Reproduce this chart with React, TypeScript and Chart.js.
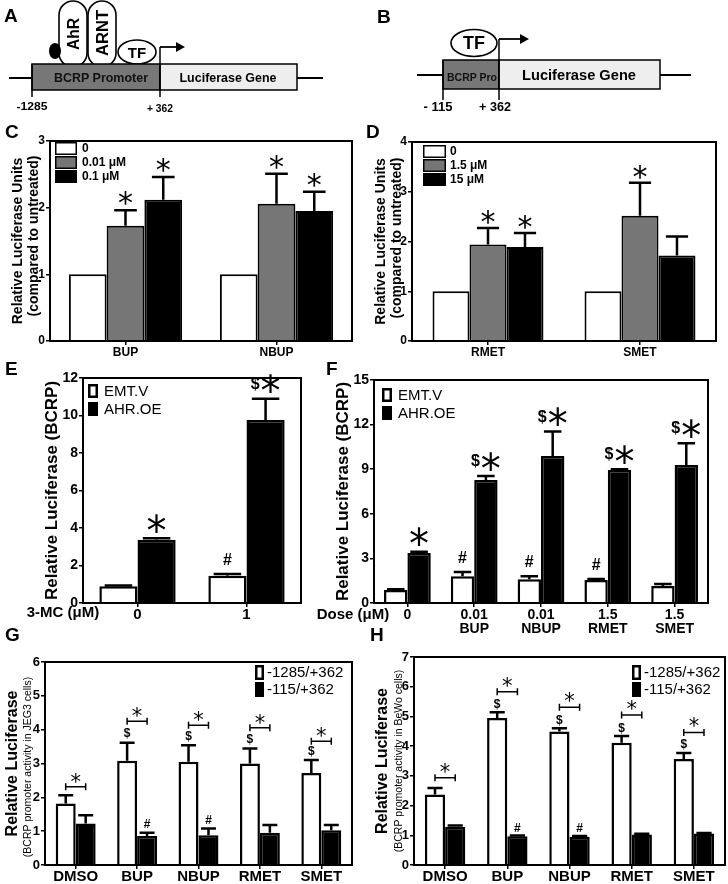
import React, { useEffect, useRef } from 'react';
import { Chart, registerables } from 'chart.js';

Chart.register(...registerables);

const SANS = '"Liberation Sans", Arial, Helvetica, sans-serif';
const STAR_FONT = '"DejaVu Sans", sans-serif';

// ---------------- Panel C ----------------
const C_CATEGORIES = ['BUP', 'NBUP'];
const C_SERIES = ['0', '0.01 μM', '0.1 μM'];
const C_VALUES_0 = [1, 1];
const C_VALUES_1 = [1.73, 2.06];
const C_VALUES_2 = [2.12, 1.95];
const C_ERRORS_0 = [0, 0];
const C_ERRORS_1 = [0.23, 0.45];
const C_ERRORS_2 = [0.34, 0.29];
const C_MARKS_0 = ['', ''];
const C_MARKS_1 = ['*', '*'];
const C_MARKS_2 = ['*', '*'];
const C_Y_MAX = 3;
const C_Y_STEP = 1;
const C_Y_TITLE = 'Relative Luciferase Units';
const C_Y_SUBTITLE = '(compared to untreated)';

// ---------------- Panel D ----------------
const D_CATEGORIES = ['RMET', 'SMET'];
const D_SERIES = ['0', '1.5 μM', '15 μM'];
const D_VALUES_0 = [1, 1];
const D_VALUES_1 = [1.94, 2.52];
const D_VALUES_2 = [1.89, 1.72];
const D_ERRORS_0 = [0, 0];
const D_ERRORS_1 = [0.33, 0.66];
const D_ERRORS_2 = [0.28, 0.38];
const D_MARKS_0 = ['', ''];
const D_MARKS_1 = ['*', '*'];
const D_MARKS_2 = ['*', ''];
const D_Y_MAX = 4;
const D_Y_STEP = 1;
const D_Y_TITLE = 'Relative Luciferase Units';
const D_Y_SUBTITLE = '(compared to untreated)';

// ---------------- Panel E ----------------
const E_CATEGORIES = ['0', '1'];
const E_X_PREFIX = '3-MC (μM)';
const E_SERIES = ['EMT.V', 'AHR.OE'];
const E_VALUES_EMT = [0.89, 1.45];
const E_VALUES_AHR = [3.38, 9.76];
const E_ERRORS_EMT = [0.04, 0.1];
const E_ERRORS_AHR = [0.08, 1.14];
const E_MARKS_EMT = ['', '#'];
const E_MARKS_AHR = ['*', '$*'];
const E_Y_MAX = 12;
const E_Y_STEP = 2;
const E_Y_TITLE = 'Relative Luciferase (BCRP)';

// ---------------- Panel F ----------------
const F_DOSES = ['0', '0.01', '0.01', '1.5', '1.5'];
const F_DRUGS = ['', 'BUP', 'NBUP', 'RMET', 'SMET'];
const F_X_PREFIX = 'Dose (μM)';
const F_SERIES = ['EMT.V', 'AHR.OE'];
const F_VALUES_EMT = [0.87, 1.8, 1.6, 1.55, 1.15];
const F_VALUES_AHR = [3.36, 8.27, 9.89, 8.94, 9.28];
const F_ERRORS_EMT = [0.06, 0.28, 0.2, 0.07, 0.12];
const F_ERRORS_AHR = [0.08, 0.27, 1.64, 0.05, 1.46];
const F_MARKS_EMT = ['', '#', '#', '#', ''];
const F_MARKS_AHR = ['*', '$*', '$*', '$*', '$*'];
const F_Y_MAX = 15;
const F_Y_STEP = 3;
const F_Y_TITLE = 'Relative Luciferase (BCRP)';

// ---------------- Panels G / H ----------------
const GH_CATEGORIES = ['DMSO', 'BUP', 'NBUP', 'RMET', 'SMET'];
const GH_SERIES = ['-1285/+362', '-115/+362'];
const G_VALUES_LONG = [1.82, 3.08, 3.05, 3.0, 2.72];
const G_ERRORS_LONG = [0.24, 0.53, 0.49, 0.44, 0.38];
const G_VALUES_SHORT = [1.23, 0.86, 0.88, 0.95, 1.03];
const G_ERRORS_SHORT = [0.24, 0.09, 0.2, 0.23, 0.15];
const G_MARKS_LONG = ['', '$', '$', '$', '$'];
const G_MARKS_SHORT = ['', '#', '#', '', ''];
const G_BRACKETS = [2.31, 4.25, 4.13, 4.06, 3.66];
const G_BRACKET_MARKS = ['*', '*', '*', '*', '*'];
const G_Y_MAX = 6;
const G_Y_STEP = 1;
const G_Y_TITLE = 'Relative Luciferase';
const G_Y_SUBTITLE = '(BCRP promoter activity in JEG3 cells)';

const H_VALUES_LONG = [2.37, 4.95, 4.49, 4.11, 3.57];
const H_ERRORS_LONG = [0.22, 0.19, 0.11, 0.23, 0.2];
const H_VALUES_SHORT = [1.29, 0.97, 0.95, 1.03, 1.06];
const H_ERRORS_SHORT = [0.04, 0.02, 0.03, 0.02, 0.02];
const H_MARKS_LONG = ['', '$', '$', '$', '$'];
const H_MARKS_SHORT = ['', '#', '#', '', ''];
const H_BRACKETS = [2.94, 5.83, 5.31, 5.05, 4.46];
const H_BRACKET_MARKS = ['*', '*', '*', '*', '*'];
const H_Y_MAX = 7;
const H_Y_STEP = 1;
const H_Y_TITLE = 'Relative Luciferase';
const H_Y_SUBTITLE = '(BCRP promoter activity in BeWo cells)';

const WHITE = '#ffffff';
const GRAY = '#767676';
const BLACK = '#000000';

type DS = { label: string; data: number[]; errors: number[]; marks: string[]; color: string };
type Spec = {
  box: number[];
  area: number[];
  labels: any[];
  datasets: DS[];
  yMax: number;
  yStep: number;
  yTickSize: number;
  xTickSize: number;
  xLineHeight: number;
  xTickPad: number;
  title: string;
  titleSize: number;
  titleX: number;
  catPct: number;
  barBorder: number;
  frame: number;
  capRatio: number;
  errWidth: number;
  markOffset: number;
  starSize: number;
  symSize: number;
  legend: { x: number; y: number; w: number; h: number; row: number; gap: number; size: number; bold: boolean; border: number };
  texts: { text: string; x: number; y: number; size: number; bold: boolean; rotate?: boolean }[];
  brackets?: number[];
  bracketMarks?: string[];
  bracketStarGap?: number;
};

function drawMark(ctx: CanvasRenderingContext2D, text: string, cx: number, cy: number, s: Spec) {
  const parts = Array.from(text).map((ch) => {
    const star = ch === '*';
    const font = star ? `${s.starSize}px ${STAR_FONT}` : `bold ${s.symSize}px ${SANS}`;
    ctx.font = font;
    const m = ctx.measureText(ch);
    return { ch, font, w: m.width, asc: m.actualBoundingBoxAscent, desc: m.actualBoundingBoxDescent };
  });
  const gap = 1;
  const total = parts.reduce((a, p) => a + p.w, 0) + gap * (parts.length - 1);
  let x = cx - total / 2;
  ctx.fillStyle = '#000';
  ctx.textAlign = 'left';
  ctx.textBaseline = 'alphabetic';
  for (const p of parts) {
    ctx.font = p.font;
    ctx.fillText(p.ch, x, cy + (p.asc - p.desc) / 2);
    x += p.w + gap;
  }
}

function makePlugin(s: Spec) {
  const [bl, bt] = s.box;
  return {
    id: 'panelDecor',
    afterDatasetsDraw(chart: any) {
      const ctx: CanvasRenderingContext2D = chart.ctx;
      const y = chart.scales.y;
      ctx.save();
      s.datasets.forEach((ds, di) => {
        const meta = chart.getDatasetMeta(di);
        meta.data.forEach((bar: any, i: number) => {
          const e = ds.errors[i];
          if (!e) return;
          const yt = y.getPixelForValue(ds.data[i] + e);
          const yb = y.getPixelForValue(ds.data[i]);
          const half = (bar.width * s.capRatio) / 2;
          ctx.strokeStyle = '#000';
          ctx.lineWidth = s.errWidth;
          ctx.beginPath();
          ctx.moveTo(bar.x, yb);
          ctx.lineTo(bar.x, yt);
          ctx.moveTo(bar.x - half, yt);
          ctx.lineTo(bar.x + half, yt);
          ctx.stroke();
        });
      });
      ctx.restore();
    },
    afterDraw(chart: any) {
      const ctx: CanvasRenderingContext2D = chart.ctx;
      const a = chart.chartArea;
      const y = chart.scales.y;
      ctx.save();
      // frame
      ctx.strokeStyle = '#000';
      ctx.lineWidth = s.frame;
      ctx.strokeRect(a.left, a.top, a.right - a.left, a.bottom - a.top);
      // significance marks
      s.datasets.forEach((ds, di) => {
        const meta = chart.getDatasetMeta(di);
        meta.data.forEach((bar: any, i: number) => {
          const m = ds.marks[i];
          if (!m) return;
          const yt = y.getPixelForValue(ds.data[i] + (ds.errors[i] || 0));
          drawMark(ctx, m, bar.x, yt - s.markOffset, s);
        });
      });
      // brackets
      if (s.brackets) {
        const m0 = chart.getDatasetMeta(0);
        const m1 = chart.getDatasetMeta(1);
        s.brackets.forEach((b, i) => {
          const x0 = m0.data[i].x;
          const x1 = m1.data[i].x;
          const yy = y.getPixelForValue(b);
          ctx.strokeStyle = '#000';
          ctx.lineWidth = 1.5;
          ctx.beginPath();
          ctx.moveTo(x0, yy);
          ctx.lineTo(x1, yy);
          ctx.moveTo(x0, yy - 3.5);
          ctx.lineTo(x0, yy + 3.5);
          ctx.moveTo(x1, yy - 3.5);
          ctx.lineTo(x1, yy + 3.5);
          ctx.stroke();
          const mk = s.bracketMarks ? s.bracketMarks[i] : '';
          if (mk) drawMark(ctx, mk, (x0 + x1) / 2, yy - (s.bracketStarGap || 9), s);
        });
      }
      // legend
      const L = s.legend;
      s.datasets.forEach((ds, i) => {
        const x = L.x - bl;
        const yy = L.y - bt + i * L.row;
        ctx.fillStyle = ds.color;
        ctx.fillRect(x, yy, L.w, L.h);
        ctx.strokeStyle = '#000';
        ctx.lineWidth = L.border;
        ctx.strokeRect(x + L.border / 2, yy + L.border / 2, L.w - L.border, L.h - L.border);
        ctx.fillStyle = '#000';
        ctx.font = `${L.bold ? 'bold ' : ''}${L.size}px ${SANS}`;
        ctx.textAlign = 'left';
        ctx.textBaseline = 'middle';
        ctx.fillText(ds.label, x + L.w + L.gap, yy + L.h / 2 + 0.5);
      });
      // extra texts
      s.texts.forEach((t) => {
        ctx.save();
        ctx.translate(t.x - bl, t.y - bt);
        if (t.rotate) ctx.rotate(-Math.PI / 2);
        ctx.fillStyle = '#000';
        ctx.font = `${t.bold ? 'bold ' : ''}${t.size}px ${SANS}`;
        ctx.textAlign = 'center';
        ctx.textBaseline = 'middle';
        ctx.fillText(t.text, 0, 0);
        ctx.restore();
      });
      ctx.restore();
    },
  };
}

function buildConfig(s: Spec) {
  const [bl, bt, bw, bh] = s.box;
  const [al, at, ar, ab] = s.area;
  const yW = al - bl;
  const xH = bt + bh - ab;
  const padTop = at - bt;
  const padRight = bl + bw - ar;
  const titleLH = 1.15;
  const titlePad = s.titleX - bl - (s.titleSize * titleLH) / 2;
  return {
    type: 'bar',
    data: {
      labels: s.labels,
      datasets: s.datasets.map((d) => ({
        label: d.label,
        data: d.data,
        backgroundColor: d.color,
        borderColor: '#000',
        borderWidth: s.barBorder,
        borderSkipped: 'start',
        categoryPercentage: s.catPct,
        barPercentage: 1,
      })),
    },
    options: {
      animation: false,
      responsive: false,
      maintainAspectRatio: false,
      devicePixelRatio: 1,
      events: [],
      layout: { padding: { top: padTop, right: padRight, left: 0, bottom: 0 } },
      plugins: { legend: { display: false }, tooltip: { enabled: false }, title: { display: false } },
      scales: {
        x: {
          grid: { offset: false, drawOnChartArea: false, drawTicks: true, tickLength: 4, color: '#000', lineWidth: 1.5 },
          border: { display: true, color: '#000', width: s.frame },
          ticks: {
            color: '#000',
            font: { family: SANS, size: s.xTickSize, weight: 'bold', lineHeight: s.xLineHeight },
            padding: s.xTickPad,
            maxRotation: 0,
            minRotation: 0,
            autoSkip: false,
          },
          afterFit: (sc: any) => {
            sc.height = xH;
          },
        },
        y: {
          min: 0,
          max: s.yMax,
          grid: { drawOnChartArea: false, drawTicks: true, tickLength: 4, color: '#000', lineWidth: 1.5 },
          border: { display: true, color: '#000', width: s.frame },
          ticks: {
            stepSize: s.yStep,
            color: '#000',
            font: { family: SANS, size: s.yTickSize, weight: 'bold' },
            padding: 1,
          },
          title: {
            display: true,
            text: s.title,
            color: '#000',
            font: { family: SANS, size: s.titleSize, weight: 'bold', lineHeight: titleLH },
            padding: { top: titlePad, bottom: 0 },
          },
          afterFit: (sc: any) => {
            sc.width = yW;
          },
        },
      },
    },
    plugins: [makePlugin(s)],
  };
}

const SPEC_C: Spec = {
  box: [0, 118, 360, 250],
  area: [50, 141, 352, 341],
  labels: C_CATEGORIES,
  datasets: [
    { label: C_SERIES[0], data: C_VALUES_0, errors: C_ERRORS_0, marks: C_MARKS_0, color: WHITE },
    { label: C_SERIES[1], data: C_VALUES_1, errors: C_ERRORS_1, marks: C_MARKS_1, color: GRAY },
    { label: C_SERIES[2], data: C_VALUES_2, errors: C_ERRORS_2, marks: C_MARKS_2, color: BLACK },
  ],
  yMax: C_Y_MAX,
  yStep: C_Y_STEP,
  yTickSize: 12,
  xTickSize: 12,
  xLineHeight: 1.2,
  xTickPad: 0,
  title: C_Y_TITLE,
  titleSize: 14,
  titleX: 18,
  catPct: 0.75,
  barBorder: 2,
  frame: 2,
  capRatio: 0.6,
  errWidth: 2.5,
  markOffset: 12,
  starSize: 30,
  symSize: 14,
  legend: { x: 55, y: 142, w: 22, h: 13, row: 14, gap: 5, size: 12, bold: true, border: 1.5 },
  texts: [{ text: C_Y_SUBTITLE, x: 34, y: 236, size: 14, bold: true, rotate: true }],
};

const SPEC_D: Spec = {
  box: [364, 118, 364, 250],
  area: [412, 142, 716, 341],
  labels: D_CATEGORIES,
  datasets: [
    { label: D_SERIES[0], data: D_VALUES_0, errors: D_ERRORS_0, marks: D_MARKS_0, color: WHITE },
    { label: D_SERIES[1], data: D_VALUES_1, errors: D_ERRORS_1, marks: D_MARKS_1, color: GRAY },
    { label: D_SERIES[2], data: D_VALUES_2, errors: D_ERRORS_2, marks: D_MARKS_2, color: BLACK },
  ],
  yMax: D_Y_MAX,
  yStep: D_Y_STEP,
  yTickSize: 12,
  xTickSize: 12,
  xLineHeight: 1.2,
  xTickPad: 0,
  title: D_Y_TITLE,
  titleSize: 14,
  titleX: 381,
  catPct: 0.73,
  barBorder: 2,
  frame: 2,
  capRatio: 0.6,
  errWidth: 2.5,
  markOffset: 11,
  starSize: 30,
  symSize: 14,
  legend: { x: 423, y: 145, w: 23, h: 13, row: 14, gap: 4, size: 12, bold: true, border: 1.5 },
  texts: [{ text: D_Y_SUBTITLE, x: 397, y: 238, size: 14, bold: true, rotate: true }],
};

const SPEC_E: Spec = {
  box: [0, 355, 312, 275],
  area: [83, 378, 301, 603],
  labels: E_CATEGORIES,
  datasets: [
    { label: E_SERIES[0], data: E_VALUES_EMT, errors: E_ERRORS_EMT, marks: E_MARKS_EMT, color: WHITE },
    { label: E_SERIES[1], data: E_VALUES_AHR, errors: E_ERRORS_AHR, marks: E_MARKS_AHR, color: BLACK },
  ],
  yMax: E_Y_MAX,
  yStep: E_Y_STEP,
  yTickSize: 14,
  xTickSize: 15,
  xLineHeight: 1.0,
  xTickPad: 0,
  title: E_Y_TITLE,
  titleSize: 17,
  titleX: 52,
  catPct: 0.7,
  barBorder: 2.5,
  frame: 2,
  capRatio: 0.72,
  errWidth: 2.5,
  markOffset: 15,
  starSize: 40,
  symSize: 16,
  legend: { x: 88, y: 384, w: 10, h: 14, row: 18, gap: 6, size: 15, bold: false, border: 2.5 },
  texts: [{ text: E_X_PREFIX, x: 63, y: 613, size: 15, bold: true }],
};

const SPEC_F: Spec = {
  box: [310, 355, 418, 290],
  area: [374, 380, 708, 603],
  labels: F_DOSES.map((d, i) => (F_DRUGS[i] ? [d, F_DRUGS[i]] : d)),
  datasets: [
    { label: F_SERIES[0], data: F_VALUES_EMT, errors: F_ERRORS_EMT, marks: F_MARKS_EMT, color: WHITE },
    { label: F_SERIES[1], data: F_VALUES_AHR, errors: F_ERRORS_AHR, marks: F_MARKS_AHR, color: BLACK },
  ],
  yMax: F_Y_MAX,
  yStep: F_Y_STEP,
  yTickSize: 14,
  xTickSize: 14,
  xLineHeight: 1.0,
  xTickPad: 1,
  title: F_Y_TITLE,
  titleSize: 17,
  titleX: 343,
  catPct: 0.7,
  barBorder: 2.5,
  frame: 2,
  capRatio: 0.75,
  errWidth: 2.5,
  markOffset: 15,
  starSize: 40,
  symSize: 16,
  legend: { x: 382, y: 388, w: 10, h: 14, row: 18, gap: 6, size: 15, bold: false, border: 2.5 },
  texts: [{ text: F_X_PREFIX, x: 353, y: 615, size: 15, bold: true }],
};

const SPEC_G: Spec = {
  box: [0, 640, 360, 244],
  area: [45, 662, 352, 865],
  labels: GH_CATEGORIES,
  datasets: [
    { label: GH_SERIES[0], data: G_VALUES_LONG, errors: G_ERRORS_LONG, marks: G_MARKS_LONG, color: WHITE },
    { label: GH_SERIES[1], data: G_VALUES_SHORT, errors: G_ERRORS_SHORT, marks: G_MARKS_SHORT, color: BLACK },
  ],
  yMax: G_Y_MAX,
  yStep: G_Y_STEP,
  yTickSize: 13,
  xTickSize: 15,
  xLineHeight: 1.0,
  xTickPad: 0,
  title: G_Y_TITLE,
  titleSize: 16,
  titleX: 13,
  catPct: 0.65,
  barBorder: 2.5,
  frame: 2,
  capRatio: 0.75,
  errWidth: 2.5,
  markOffset: 9,
  starSize: 21,
  symSize: 12,
  legend: { x: 255, y: 665, w: 9, h: 15, row: 17, gap: 3, size: 15, bold: false, border: 2.5 },
  texts: [{ text: G_Y_SUBTITLE, x: 28, y: 767, size: 10.5, bold: false, rotate: true }],
  brackets: G_BRACKETS,
  bracketMarks: G_BRACKET_MARKS,
  bracketStarGap: 9,
};

const SPEC_H: Spec = {
  box: [364, 640, 364, 244],
  area: [414, 657, 725, 865],
  labels: GH_CATEGORIES,
  datasets: [
    { label: GH_SERIES[0], data: H_VALUES_LONG, errors: H_ERRORS_LONG, marks: H_MARKS_LONG, color: WHITE },
    { label: GH_SERIES[1], data: H_VALUES_SHORT, errors: H_ERRORS_SHORT, marks: H_MARKS_SHORT, color: BLACK },
  ],
  yMax: H_Y_MAX,
  yStep: H_Y_STEP,
  yTickSize: 13,
  xTickSize: 15,
  xLineHeight: 1.0,
  xTickPad: 0,
  title: H_Y_TITLE,
  titleSize: 16,
  titleX: 383,
  catPct: 0.65,
  barBorder: 2.5,
  frame: 2,
  capRatio: 0.75,
  errWidth: 2.5,
  markOffset: 8,
  starSize: 21,
  symSize: 12,
  legend: { x: 632, y: 665, w: 9, h: 15, row: 17, gap: 3, size: 15, bold: false, border: 2.5 },
  texts: [{ text: H_Y_SUBTITLE, x: 399, y: 761, size: 10.5, bold: false, rotate: true }],
  brackets: H_BRACKETS,
  bracketMarks: H_BRACKET_MARKS,
  bracketStarGap: 10,
};

function BarPanel({ spec }: { spec: Spec }) {
  const ref = useRef<HTMLCanvasElement>(null);
  useEffect(() => {
    const chart = new Chart(ref.current as HTMLCanvasElement, buildConfig(spec) as any);
    return () => chart.destroy();
  }, [spec]);
  const [l, t, w, h] = spec.box;
  return (
    <canvas
      ref={ref}
      width={w}
      height={h}
      style={{ position: 'absolute', left: l, top: t, width: w, height: h }}
    />
  );
}

function Diagrams() {
  const b = { fontFamily: SANS, fontWeight: 700 } as any;
  const sw = 1.6;
  return (
    <svg
      width={728}
      height={884}
      style={{ position: 'absolute', left: 0, top: 0, pointerEvents: 'none' }}
    >
      {/* Panel letters */}
      <text x={4} y={22} fontSize={19} style={b}>A</text>
      <text x={377} y={23} fontSize={19} style={b}>B</text>
      <text x={5} y={138} fontSize={19} style={b}>C</text>
      <text x={366} y={138} fontSize={19} style={b}>D</text>
      <text x={5} y={375} fontSize={19} style={b}>E</text>
      <text x={326} y={375} fontSize={19} style={b}>F</text>
      <text x={5} y={641} fontSize={19} style={b}>G</text>
      <text x={370} y={641} fontSize={19} style={b}>H</text>

      {/* Panel A diagram */}
      <line x1={9} y1={78} x2={323} y2={78} stroke="#000" strokeWidth={2} />
      <rect x={59} y={1} width={28} height={66} rx={14} fill="#fff" stroke="#000" strokeWidth={sw} />
      <rect x={88} y={1} width={28} height={66} rx={14} fill="#fff" stroke="#000" strokeWidth={sw} />
      <ellipse cx={55} cy={51} rx={6} ry={8} fill="#000" />
      <ellipse cx={137} cy={52} rx={19} ry={12} fill="#fff" stroke="#000" strokeWidth={sw} />
      <rect x={32} y={64} width={128} height={26} fill="#777" stroke="#000" strokeWidth={1.5} />
      <rect x={160} y={64} width={137} height={26} fill="#eee" stroke="#000" strokeWidth={1.5} />
      <line x1={32} y1={64} x2={32} y2={97} stroke="#000" strokeWidth={1.5} />
      <line x1={160} y1={47} x2={160} y2={97} stroke="#000" strokeWidth={1.5} />
      <line x1={160} y1={47} x2={177} y2={47} stroke="#000" strokeWidth={1.8} />
      <polygon points="185,47 176,42 176,52" fill="#000" />
      <text x={101} y={82} fontSize={13} style={b} textAnchor="middle" textLength={94} lengthAdjust="spacingAndGlyphs" fill="#111">BCRP Promoter</text>
      <text x={228} y={82} fontSize={13} style={b} textAnchor="middle" textLength={97} lengthAdjust="spacingAndGlyphs">Luciferase Gene</text>
      <text x={32} y={110} fontSize={11} style={b} textAnchor="middle" textLength={31} lengthAdjust="spacingAndGlyphs">-1285</text>
      <text x={160} y={112} fontSize={11} style={b} textAnchor="middle" textLength={26} lengthAdjust="spacingAndGlyphs">+ 362</text>
      <text transform="translate(73,34) rotate(-90)" fontSize={16} style={b} textAnchor="middle" dominantBaseline="central" textLength={32} lengthAdjust="spacingAndGlyphs">AhR</text>
      <text transform="translate(102,33) rotate(-90)" fontSize={16} style={b} textAnchor="middle" dominantBaseline="central" textLength={46} lengthAdjust="spacingAndGlyphs">ARNT</text>
      <text x={137} y={52} fontSize={15} style={b} textAnchor="middle" dominantBaseline="central">TF</text>

      {/* Panel B diagram */}
      <line x1={417} y1={75} x2={691} y2={75} stroke="#000" strokeWidth={2} />
      <rect x={443} y={60} width={56} height={29} fill="#777" stroke="#000" strokeWidth={1.5} />
      <rect x={499} y={60} width={161} height={29} fill="#eee" stroke="#000" strokeWidth={1.5} />
      <line x1={443} y1={60} x2={443} y2={100} stroke="#000" strokeWidth={1.5} />
      <line x1={499} y1={39} x2={499} y2={100} stroke="#000" strokeWidth={1.5} />
      <line x1={499} y1={39} x2={521} y2={39} stroke="#000" strokeWidth={1.8} />
      <polygon points="529,39 520,34 520,44" fill="#000" />
      <ellipse cx={474} cy={43} rx={23} ry={13.5} fill="#fff" stroke="#000" strokeWidth={sw} />
      <text x={472} y={81} fontSize={11} style={b} textAnchor="middle" textLength={50} lengthAdjust="spacingAndGlyphs" fill="#111">BCRP Pro</text>
      <text x={579} y={80} fontSize={15} style={b} textAnchor="middle" textLength={114} lengthAdjust="spacingAndGlyphs">Luciferase Gene</text>
      <text x={474} y={43} fontSize={18} style={b} textAnchor="middle" dominantBaseline="central">TF</text>
      <text x={438} y={111} fontSize={12} style={b} textAnchor="middle" textLength={29} lengthAdjust="spacingAndGlyphs">- 115</text>
      <text x={495} y={111} fontSize={12} style={b} textAnchor="middle" textLength={32} lengthAdjust="spacingAndGlyphs">+ 362</text>
    </svg>
  );
}

export default function App() {
  return (
    <div style={{ position: 'absolute', left: 0, top: 0, width: 728, height: 884, background: '#fff', overflow: 'hidden' }}>
      <BarPanel spec={SPEC_C} />
      <BarPanel spec={SPEC_D} />
      <BarPanel spec={SPEC_E} />
      <BarPanel spec={SPEC_F} />
      <BarPanel spec={SPEC_G} />
      <BarPanel spec={SPEC_H} />
      <Diagrams />
    </div>
  );
}
